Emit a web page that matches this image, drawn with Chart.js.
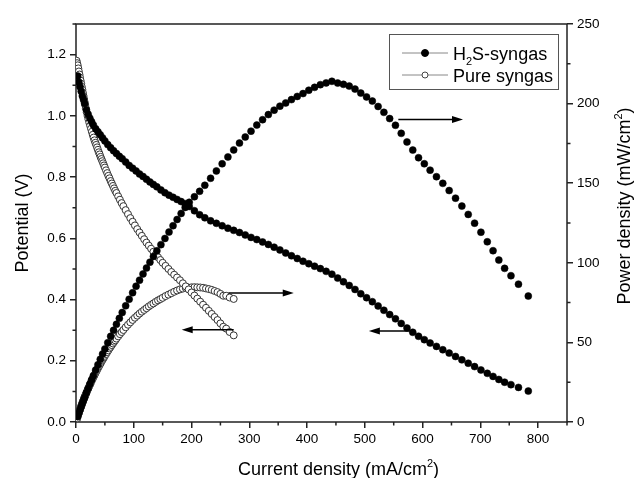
<!DOCTYPE html>
<html>
<head>
<meta charset="utf-8">
<script src="https://cdn.jsdelivr.net/npm/chart.js@4.4.1/dist/chart.umd.min.js"></script>
<style>
body { margin: 0; background: #fff; }
</style>
</head>
<body>
<canvas id="chart" width="640" height="478"></canvas>
<script>
// H2S-syngas: current density (mA/cm2), potential (V), power density (mW/cm2)
var h2sCurrent = [
    3, 5, 7, 9, 11, 13, 15, 18, 21, 24,
    27, 30, 34, 38, 42, 46, 50, 55, 60, 65,
    70, 75, 80, 86, 92, 98, 104, 110, 116, 122,
    128, 134, 140, 147, 154, 161, 168, 175, 182, 189,
    196, 205, 214, 223, 233, 243, 253, 263, 273, 283,
    293, 303, 313, 323, 333, 343, 353, 363, 373, 383,
    393, 403, 413, 423, 433, 443, 453, 463, 473, 483,
    493, 503, 513, 523, 533, 543, 553, 563, 573, 583,
    593, 603, 613, 624, 635, 646, 657, 668, 679, 690,
    701, 712, 722, 732, 742, 753, 766, 783
];
var h2sPotential = [
    1.13, 1.11, 1.095, 1.08, 1.065, 1.053, 1.04, 1.02, 1.005, 0.992,
    0.981, 0.97, 0.958, 0.948, 0.938, 0.928, 0.918, 0.906, 0.896, 0.886,
    0.877, 0.868, 0.860, 0.849, 0.838, 0.829, 0.820, 0.810, 0.802, 0.793,
    0.784, 0.776, 0.768, 0.758, 0.749, 0.741, 0.734, 0.727, 0.720, 0.713,
    0.704, 0.690, 0.677, 0.667, 0.657, 0.649, 0.641, 0.633, 0.626, 0.619,
    0.611, 0.603, 0.596, 0.588, 0.580, 0.571, 0.562, 0.552, 0.543, 0.534,
    0.525, 0.517, 0.509, 0.501, 0.492, 0.483, 0.470, 0.458, 0.446, 0.433,
    0.419, 0.406, 0.393, 0.379, 0.365, 0.351, 0.337, 0.322, 0.307, 0.293,
    0.280, 0.269, 0.258, 0.247, 0.236, 0.225, 0.214, 0.203, 0.192, 0.181,
    0.170, 0.159, 0.149, 0.139, 0.130, 0.122, 0.113, 0.101
];
var h2sPower = [
    3.4, 5.6, 7.7, 9.7, 11.7, 13.7, 15.6, 18.4, 21.1, 23.8,
    26.5, 29.1, 32.6, 36.0, 39.4, 42.7, 45.9, 49.8, 53.8, 57.6,
    61.4, 65.1, 68.8, 73.0, 77.1, 81.2, 85.3, 89.1, 93.0, 96.7,
    100.4, 104.0, 107.5, 111.4, 115.3, 119.3, 123.3, 127.2, 131.0, 134.8,
    138.0, 141.5, 144.9, 148.7, 153.1, 157.7, 162.2, 166.5, 170.9, 175.2,
    179.0, 182.7, 186.5, 189.9, 193.1, 195.9, 198.4, 200.4, 202.5, 204.5,
    206.3, 208.4, 210.2, 211.9, 213.0, 214.0, 212.9, 212.1, 211.0, 209.1,
    206.6, 204.2, 201.6, 198.2, 194.5, 190.6, 186.4, 181.3, 175.9, 170.8,
    166.0, 162.2, 158.2, 154.1, 149.9, 145.4, 140.6, 135.6, 130.4, 124.9,
    119.2, 113.2, 107.6, 101.7, 96.5, 91.9, 86.6, 79.1
];

// Pure syngas
var pureCurrent = [
    1, 2, 3, 4, 5, 6, 7, 8, 9, 10,
    11, 12, 13, 14, 15, 16, 17, 18.5, 20, 21.5,
    23, 24.5, 26, 27.5, 29, 30.5, 32, 33.5, 35, 36.5,
    38, 39.5, 41, 42.5, 44, 45.5, 47, 48.5, 50, 52,
    54, 56, 58, 60, 62, 64, 66, 68, 70, 73,
    76, 79, 82, 86, 90, 94, 98, 102, 106, 110,
    114, 118, 122, 126, 130, 134, 138, 142, 146, 150,
    155, 160, 165, 170, 175, 180, 185, 190, 195, 200,
    205, 210, 215, 220, 225, 230, 235, 240, 245, 250,
    255, 260, 266, 273
];
var purePotential = [
    1.18, 1.172, 1.165, 1.155, 1.145, 1.135, 1.125, 1.115, 1.105, 1.095,
    1.085, 1.075, 1.065, 1.055, 1.045, 1.035, 1.025, 1.012, 1.00, 0.989,
    0.978, 0.968, 0.958, 0.948, 0.938, 0.929, 0.92, 0.912, 0.905, 0.897,
    0.889, 0.881, 0.874, 0.866, 0.859, 0.852, 0.845, 0.838, 0.831, 0.822,
    0.813, 0.804, 0.796, 0.787, 0.779, 0.771, 0.763, 0.755, 0.748, 0.737,
    0.726, 0.715, 0.705, 0.692, 0.679, 0.666, 0.654, 0.642, 0.630, 0.619,
    0.608, 0.597, 0.586, 0.576, 0.566, 0.556, 0.547, 0.538, 0.529, 0.520,
    0.510, 0.500, 0.490, 0.481, 0.472, 0.463, 0.453, 0.443, 0.433, 0.423,
    0.413, 0.403, 0.393, 0.383, 0.373, 0.363, 0.353, 0.343, 0.333, 0.322,
    0.311, 0.305, 0.294, 0.283
];
var purePower = [
    1.2, 2.3, 3.5, 4.6, 5.7, 6.8, 7.9, 8.9, 9.9, 11.0,
    11.9, 12.9, 13.8, 14.8, 15.7, 16.6, 17.4, 18.7, 20.0, 21.3,
    22.5, 23.7, 24.9, 26.1, 27.2, 28.3, 29.4, 30.6, 31.7, 32.7,
    33.8, 34.8, 35.8, 36.8, 37.8, 38.8, 39.7, 40.6, 41.6, 42.7,
    43.9, 45.0, 46.2, 47.2, 48.3, 49.3, 50.4, 51.3, 52.4, 53.8,
    55.2, 56.5, 57.8, 59.5, 61.1, 62.6, 64.1, 65.5, 66.8, 68.1,
    69.3, 70.4, 71.5, 72.6, 73.6, 74.5, 75.5, 76.4, 77.2, 78.0,
    79.1, 80.0, 80.9, 81.8, 82.6, 83.3, 83.8, 84.2, 84.4, 84.6,
    84.7, 84.6, 84.5, 84.3, 83.9, 83.5, 83.0, 82.3, 81.6, 80.5,
    79.3, 79.3, 78.2, 77.3
];

// tick values
var currentTicks = [0, 100, 200, 300, 400, 500, 600, 700, 800];
var currentMinor = [50, 150, 250, 350, 450, 550, 650, 750, 850];
var potentialTicks = [0, 0.2, 0.4, 0.6, 0.8, 1.0, 1.2];
var potentialMinor = [0.1, 0.3, 0.5, 0.7, 0.9, 1.1, 1.3];
var powerTicks = [0, 50, 100, 150, 200, 250];
var powerMinor = [25, 75, 125, 175, 225];

// arrows pointing each curve to its axis: {axis, from, to, at}
var arrows = [
    { axis: 'y1', from: 558, to: 670, at: 190 },
    { axis: 'y', from: 580, to: 507, at: 0.297 },
    { axis: 'y1', from: 264, to: 377, at: 81 },
    { axis: 'y', from: 273, to: 183, at: 0.3015 }
];

var FONT = '"Liberation Sans", Arial, sans-serif';
var AXIS_COLOR = '#222';

function pairs(xs, ys) {
    return xs.map(function(x, i) { return { x: x, y: ys[i] }; });
}

function setTicks(values) {
    return function(scale) {
        scale.ticks = values.map(function(v) { return { value: v }; });
    };
}

// draws text with super/subscript parts, centred on (x, y)
function drawRich(ctx, parts, x, y, size) {
    var small = Math.round(size * 0.62);
    var total = 0;
    parts.forEach(function(p) {
        ctx.font = (p.s ? small : size) + 'px ' + FONT;
        p.w = ctx.measureText(p.t).width;
        total += p.w;
    });
    var cx = x - total / 2;
    ctx.textBaseline = 'alphabetic';
    ctx.textAlign = 'left';
    parts.forEach(function(p) {
        ctx.font = (p.s ? small : size) + 'px ' + FONT;
        var dy = p.s === 1 ? -size * 0.42 : (p.s === -1 ? size * 0.28 : 0);
        ctx.fillText(p.t, cx, y + dy);
        cx += p.w;
    });
    return total;
}

var framePlugin = {
    id: 'frame',
    beforeDatasetsDraw: function(chart) {
        var a = chart.chartArea;
        var ctx = chart.ctx;
        ctx.save();
        ctx.strokeStyle = AXIS_COLOR;
        ctx.lineWidth = 1.5;
        ctx.strokeRect(a.left, a.top, a.right - a.left, a.bottom - a.top);

        // minor ticks
        var x = chart.scales.x, y = chart.scales.y, y1 = chart.scales.y1;
        ctx.beginPath();
        currentMinor.forEach(function(v) {
            var px = x.getPixelForValue(v);
            ctx.moveTo(px, a.bottom);
            ctx.lineTo(px, a.bottom + 3.5);
        });
        potentialMinor.forEach(function(v) {
            var py = y.getPixelForValue(v);
            ctx.moveTo(a.left, py);
            ctx.lineTo(a.left - 3.5, py);
        });
        powerMinor.forEach(function(v) {
            var py = y1.getPixelForValue(v);
            ctx.moveTo(a.right, py);
            ctx.lineTo(a.right + 3.5, py);
        });
        ctx.stroke();
        ctx.restore();
    }
};

var annotationPlugin = {
    id: 'annotations',
    afterDatasetsDraw: function(chart) {
        var ctx = chart.ctx;
        var a = chart.chartArea;
        var x = chart.scales.x;
        ctx.save();
        ctx.fillStyle = '#000';
        ctx.strokeStyle = '#000';

        // arrows
        arrows.forEach(function(ar) {
            var py = chart.scales[ar.axis].getPixelForValue(ar.at);
            var x1 = x.getPixelForValue(ar.from);
            var x2 = x.getPixelForValue(ar.to);
            var dir = x2 > x1 ? 1 : -1;
            ctx.lineWidth = 1.6;
            ctx.beginPath();
            ctx.moveTo(x1, py);
            ctx.lineTo(x2 - dir * 8, py);
            ctx.stroke();
            ctx.beginPath();
            ctx.moveTo(x2, py);
            ctx.lineTo(x2 - dir * 11, py - 3.5);
            ctx.lineTo(x2 - dir * 11, py + 3.5);
            ctx.closePath();
            ctx.fill();
        });

        // legend
        var lx = a.right - 178, ly = a.top + 10;
        ctx.lineWidth = 1;
        ctx.strokeStyle = '#555';
        ctx.strokeRect(lx + 0.5, ly + 0.5, 169, 55);
        var rows = [
            { y: ly + 19, filled: true, parts: [{ t: 'H' }, { t: '2', s: -1 }, { t: 'S-syngas' }] },
            { y: ly + 41, filled: false, parts: [{ t: 'Pure syngas' }] }
        ];
        rows.forEach(function(r) {
            ctx.strokeStyle = '#888';
            ctx.lineWidth = 1;
            ctx.beginPath();
            ctx.moveTo(lx + 13, r.y);
            ctx.lineTo(lx + 59, r.y);
            ctx.stroke();
            ctx.beginPath();
            ctx.arc(lx + 36, r.y, r.filled ? 3.5 : 3, 0, Math.PI * 2);
            ctx.fillStyle = r.filled ? '#000' : '#fff';
            ctx.fill();
            ctx.strokeStyle = r.filled ? '#000' : '#444';
            ctx.stroke();
            ctx.fillStyle = '#000';
            var w = 0;
            r.parts.forEach(function(p) {
                ctx.font = (p.s ? 11 : 18) + 'px ' + FONT;
                w += ctx.measureText(p.t).width;
            });
            drawRich(ctx, r.parts, lx + 64 + w / 2, r.y + 6.5, 18);
        });

        // axis titles
        ctx.fillStyle = '#000';
        drawRich(ctx, [{ t: 'Current density (mA/cm' }, { t: '2', s: 1 }, { t: ')' }],
            (a.left + a.right) / 2 + 17, a.bottom + 53, 18);

        ctx.save();
        ctx.translate(28, (a.top + a.bottom) / 2);
        ctx.rotate(-Math.PI / 2);
        drawRich(ctx, [{ t: 'Potential (V)' }], 0, 0, 18);
        ctx.restore();

        ctx.save();
        ctx.translate(a.right + 63, (a.top + a.bottom) / 2 - 17);
        ctx.rotate(-Math.PI / 2);
        drawRich(ctx, [{ t: 'Power density (mW/cm' }, { t: '2', s: 1 }, { t: ')' }], 0, 0, 18);
        ctx.restore();

        ctx.restore();
    }
};

var filledPoint = {
    pointRadius: 3.5,
    pointBackgroundColor: '#000',
    pointBorderColor: '#000',
    pointBorderWidth: 0.5
};
var openPoint = {
    pointRadius: 3.5,
    pointBackgroundColor: '#fff',
    pointBorderColor: '#333',
    pointBorderWidth: 1
};

var tickFont = { family: FONT, size: 13.5 };
var gridOpts = {
    drawOnChartArea: false,
    drawTicks: true,
    tickLength: 6,
    color: AXIS_COLOR,
    lineWidth: 1.5
};

new Chart(document.getElementById('chart').getContext('2d'), {
    type: 'scatter',
    data: {
        datasets: [
            Object.assign({ label: 'H2S-syngas', data: pairs(h2sCurrent, h2sPotential), yAxisID: 'y' }, filledPoint),
            Object.assign({ label: 'H2S-syngas power', data: pairs(h2sCurrent, h2sPower), yAxisID: 'y1' }, filledPoint),
            Object.assign({ label: 'Pure syngas', data: pairs(pureCurrent, purePotential), yAxisID: 'y' }, openPoint),
            Object.assign({ label: 'Pure syngas power', data: pairs(pureCurrent, purePower), yAxisID: 'y1' }, openPoint)
        ]
    },
    options: {
        responsive: false,
        animation: false,
        events: [],
        layout: { padding: { top: 24 } },
        plugins: {
            legend: { display: false },
            tooltip: { enabled: false }
        },
        scales: {
            x: {
                type: 'linear',
                min: 0,
                max: 850,
                afterBuildTicks: setTicks(currentTicks),
                afterFit: function(scale) { scale.height = 56; },
                ticks: { color: '#000', font: tickFont, padding: 3, maxRotation: 0 },
                grid: gridOpts,
                border: { display: false }
            },
            y: {
                position: 'left',
                min: 0,
                max: 1.3,
                afterBuildTicks: setTicks(potentialTicks),
                afterFit: function(scale) { scale.width = 76; },
                ticks: {
                    color: '#000',
                    font: tickFont,
                    padding: 4,
                    callback: function(v) { return v.toFixed(1); }
                },
                grid: gridOpts,
                border: { display: false }
            },
            y1: {
                position: 'right',
                min: 0,
                max: 250,
                afterBuildTicks: setTicks(powerTicks),
                afterFit: function(scale) { scale.width = 73; },
                ticks: { color: '#000', font: tickFont, padding: 4 },
                grid: gridOpts,
                border: { display: false }
            }
        }
    },
    plugins: [framePlugin, annotationPlugin]
});
</script>
</body>
</html>
